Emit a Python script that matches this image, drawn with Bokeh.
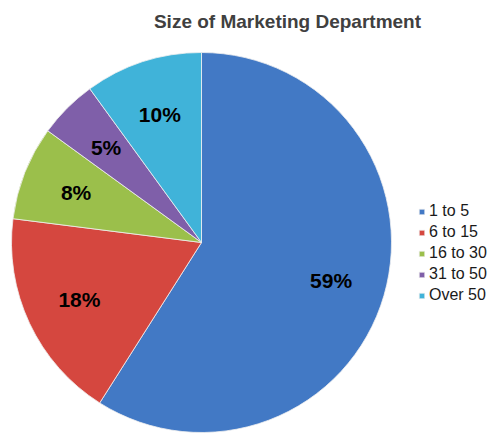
import numpy as np
from bokeh.plotting import figure
from bokeh.models import Range1d, Legend, LegendItem, Label, ColumnDataSource
from bokeh.core.properties import value
from bokeh.embed import file_html
from bokeh.resources import INLINE

title_text = "Size of Marketing Department"
categories = ["1 to 5", "6 to 15", "16 to 30", "31 to 50", "Over 50"]
shares = [59, 18, 8, 5, 10]
colors = ["#4279c5", "#d5473f", "#9bbf4b", "#7f5fa9", "#40b3d9"]

W, H = 492, 436
cx, cy, R = 201, H - 242, 190
label_factor = 0.71

fr = np.array(shares, dtype=float) / sum(shares)
cum = np.concatenate([[0.0], np.cumsum(fr)])
start = np.pi / 2 - 2 * np.pi * cum[:-1]
end = np.pi / 2 - 2 * np.pi * cum[1:]
mid = (start + end) / 2

p = figure(width=W, height=H, x_range=Range1d(0, W), y_range=Range1d(0, H),
           output_backend="svg", toolbar_location=None, min_border=0,
           x_axis_type=None, y_axis_type=None)
p.grid.visible = False
p.outline_line_color = None
p.background_fill_color = "white"
p.border_fill_color = "white"

items = []
for i, cat in enumerate(categories):
    src = ColumnDataSource(dict(x=[cx], y=[cy], s=[start[i]], e=[end[i]]))
    r = p.wedge(x="x", y="y", radius=R, start_angle="s", end_angle="e",
                direction="clock", source=src, fill_color=colors[i],
                line_color="#f0f0f0", line_width=1, line_alpha=0.8)
    items.append(LegendItem(label=cat, renderers=[r]))

lab = ColumnDataSource(dict(
    x=cx + label_factor * R * np.cos(mid),
    y=cy + label_factor * R * np.sin(mid),
    t=[f"{v}%" for v in shares],
))
p.text(x="x", y="y", text="t", source=lab, text_font=value("Liberation Sans"),
       text_font_style="bold", text_font_size="21px", text_color="black",
       text_align="center", text_baseline="middle")

p.add_layout(Label(x=287, y=H - 21, text=title_text, text_font="Liberation Sans",
                   text_font_style="bold", text_font_size="19px",
                   text_color="#404040", text_align="center",
                   text_baseline="middle"))

legend = Legend(items=items, location=(418, H - 304), padding=0, margin=0,
                spacing=3, glyph_width=7, glyph_height=7, label_height=16,
                label_standoff=4, label_text_font="Liberation Sans",
                label_text_font_size="16px", label_text_color="#1a1a1a",
                border_line_color=None, background_fill_alpha=0)
p.add_layout(legend)

open("out.html", "w").write(file_html(p, INLINE))
